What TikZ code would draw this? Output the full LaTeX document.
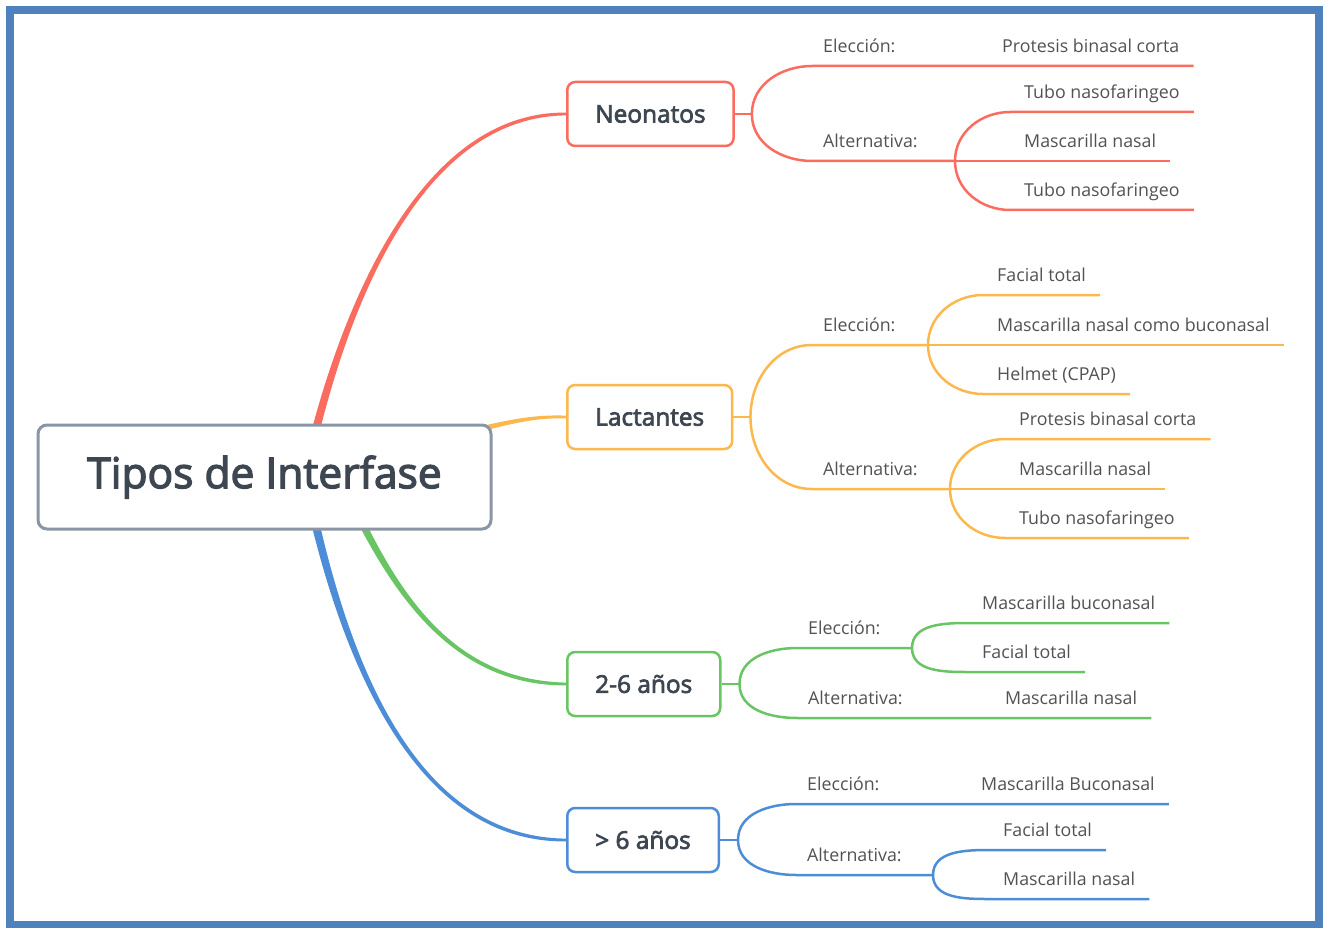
\documentclass[tikz,border=0pt]{standalone}
\usepackage{fontspec}
\setmainfont{Open Sans}
\newfontfamily\semib[FakeBold=3]{Open Sans}
\usetikzlibrary{backgrounds}

\definecolor{cneo}{RGB}{250,108,96}
\definecolor{clac}{RGB}{252,183,77}
\definecolor{ctwo}{RGB}{105,196,100}
\definecolor{csix}{RGB}{77,141,215}
\definecolor{cframe}{RGB}{79,129,189}
\definecolor{croot}{RGB}{138,150,166}
\definecolor{ctext}{RGB}{62,71,81}
\definecolor{cleaf}{RGB}{82,82,82}

\begin{document}
\begin{tikzpicture}[x=1pt, y=-1pt,
  root/.style={draw=croot, line width=3pt, rounded corners=9pt, fill=white,
    minimum width=453pt, minimum height=104pt, text=ctext,
    font=\semib\fontsize{42.5}{50}\selectfont},
  cat/.style={draw=#1, line width=2.5pt, rounded corners=8pt, fill=white,
    minimum height=64pt, inner xsep=28pt, anchor=west, text=ctext,
    font=\semib\fontsize{24.4}{29}\selectfont},
  lab/.style={anchor=south west, inner xsep=11pt, inner ysep=13pt, text depth=0pt,
    text=cleaf, font=\fontsize{17.8}{21}\selectfont},
  leaf/.style={lab, inner xsep=14pt},
  twig/.style={line width=2.5pt}]
\useasboundingbox (0,0) rectangle (1330,928);

% Frame
\draw[cframe, line width=8pt] (10,10) rectangle (1319,925);

% Central topic
\node[root] (root) at (264.5,477) {Tipos de Interfase};

% Main topics
\node[cat=cneo] (neo) at (566,114) {Neonatos};
\node[cat=clac] (lac) at (566,417) {Lactantes};
\node[cat=ctwo] (two) at (566,684) {2-6 años};
\node[cat=csix] (six) at (566,840) {> 6 años};

% Thick branches (tapering)
\begin{scope}[on background layer]
\coordinate (r1) at (305,476);
\coordinate (o1) at (420,445);
\coordinate (g1) at (340,476);
\coordinate (b1) at (305,476);
\fill[cneo] ([xshift=-4.5pt]r1) .. controls (334.5,322) and (415,111) .. ([yshift=1.4pt]neo.west)
  -- ([yshift=-1.4pt]neo.west) .. controls (415,117) and (341.5,322) .. ([xshift=4.5pt]r1) -- cycle;
\fill[clac] ([yshift=3.5pt]o1) .. controls (505,419.5) and (530,414.5) .. ([yshift=1.4pt]lac.west)
  -- ([yshift=-1.4pt]lac.west) .. controls (530,417.5) and (505,424.5) .. ([yshift=-3.5pt]o1) -- cycle;
\fill[ctwo] ([xshift=-4.5pt]g1) .. controls (386.5,590) and (450,686) .. ([yshift=-1.4pt]two.west)
  -- ([yshift=1.4pt]two.west) .. controls (450,680) and (393.5,590) .. ([xshift=4.5pt]g1) -- cycle;
\fill[csix] ([xshift=-4.5pt]b1) .. controls (336.5,650) and (410,843) .. ([yshift=-1.4pt]six.west)
  -- ([yshift=1.4pt]six.west) .. controls (410,837) and (343.5,650) .. ([xshift=4.5pt]b1) -- cycle;
\end{scope}

% Neonatos
\coordinate (n0) at ([xshift=17pt]neo.east);
\node[lab] (nE) at (812,66) {Elección:};
\node[leaf] (nE1) at (988,66) {Protesis binasal corta};
\node[lab] (nA) at (812,161) {Alternativa:};
\coordinate (nA0) at (955,161);
\node[leaf] (nA1) at (1010,112) {Tubo nasofaringeo};
\node[leaf] (nA2) at (1010,161) {Mascarilla nasal};
\node[leaf] (nA3) at (1010,210) {Tubo nasofaringeo};
\begin{scope}[cneo, twig]
\draw (neo.east) -- (n0);
\draw (n0) to[out=90, in=180] (nE.south west) -- (nE1.south east);
\draw (n0) to[out=-90, in=180] (nA.south west) -- (nA0);
\draw (nA0) to[out=90, in=180] (nA1.south west) -- (nA1.south east);
\draw (nA0) -- (nA2.south east);
\draw (nA0) to[out=-90, in=180] (nA3.south west) -- (nA3.south east);
\end{scope}

% Lactantes
\coordinate (l0) at ([xshift=17pt]lac.east);
\node[lab] (lE) at (812,345) {Elección:};
\coordinate (lE0) at (928,345);
\node[leaf] (lE1) at (983,295) {Facial total};
\node[leaf] (lE2) at (983,345) {Mascarilla nasal como buconasal};
\node[leaf] (lE3) at (983,394) {Helmet (CPAP)};
\node[lab] (lA) at (812,489) {Alternativa:};
\coordinate (lA0) at (950,489);
\node[leaf] (lA1) at (1005,439) {Protesis binasal corta};
\node[leaf] (lA2) at (1005,489) {Mascarilla nasal};
\node[leaf] (lA3) at (1005,538) {Tubo nasofaringeo};
\begin{scope}[clac, twig]
\draw (lac.east) -- (l0);
\draw (l0) to[out=90, in=180] (lE.south west) -- (lE0);
\draw (l0) to[out=-90, in=180] (lA.south west) -- (lA0);
\draw (lE0) to[out=90, in=180] (lE1.south west) -- (lE1.south east);
\draw (lE0) -- (lE2.south east);
\draw (lE0) to[out=-90, in=180] (lE3.south west) -- (lE3.south east);
\draw (lA0) to[out=90, in=180] (lA1.south west) -- (lA1.south east);
\draw (lA0) -- (lA2.south east);
\draw (lA0) to[out=-90, in=180] (lA3.south west) -- (lA3.south east);
\end{scope}

% 2-6 anos
\coordinate (g0) at ([xshift=18pt]two.east);
\node[lab] (gE) at (797,648) {Elección:};
\coordinate (gE0) at (912,648);
\node[leaf] (gE1) at (968,623) {Mascarilla buconasal};
\node[leaf] (gE2) at (968,672) {Facial total};
\node[lab] (gA) at (797,718) {Alternativa:};
\node[leaf] (gA1) at (991,718) {Mascarilla nasal};
\begin{scope}[ctwo, twig]
\draw (two.east) -- (g0);
\draw (g0) to[out=90, in=180] (gE.south west) -- (gE0);
\draw (g0) to[out=-90, in=180] (gA.south west) -- (gA1.south east);
\draw (gE0) to[out=90, in=180] (gE1.south west) -- (gE1.south east);
\draw (gE0) to[out=-90, in=180] (gE2.south west) -- (gE2.south east);
\end{scope}

% > 6 anos
\coordinate (b0) at ([xshift=18pt]six.east);
\node[lab] (bE) at (796,804) {Elección:};
\node[leaf] (bE1) at (967,804) {Mascarilla Buconasal};
\node[lab] (bA) at (796,875) {Alternativa:};
\coordinate (bA0) at (933,875);
\node[leaf] (bA1) at (989,850) {Facial total};
\node[leaf] (bA2) at (989,899) {Mascarilla nasal};
\begin{scope}[csix, twig]
\draw (six.east) -- (b0);
\draw (b0) to[out=90, in=180] (bE.south west) -- (bE1.south east);
\draw (b0) to[out=-90, in=180] (bA.south west) -- (bA0);
\draw (bA0) to[out=90, in=180] (bA1.south west) -- (bA1.south east);
\draw (bA0) to[out=-90, in=180] (bA2.south west) -- (bA2.south east);
\end{scope}
\end{tikzpicture}
\end{document}
